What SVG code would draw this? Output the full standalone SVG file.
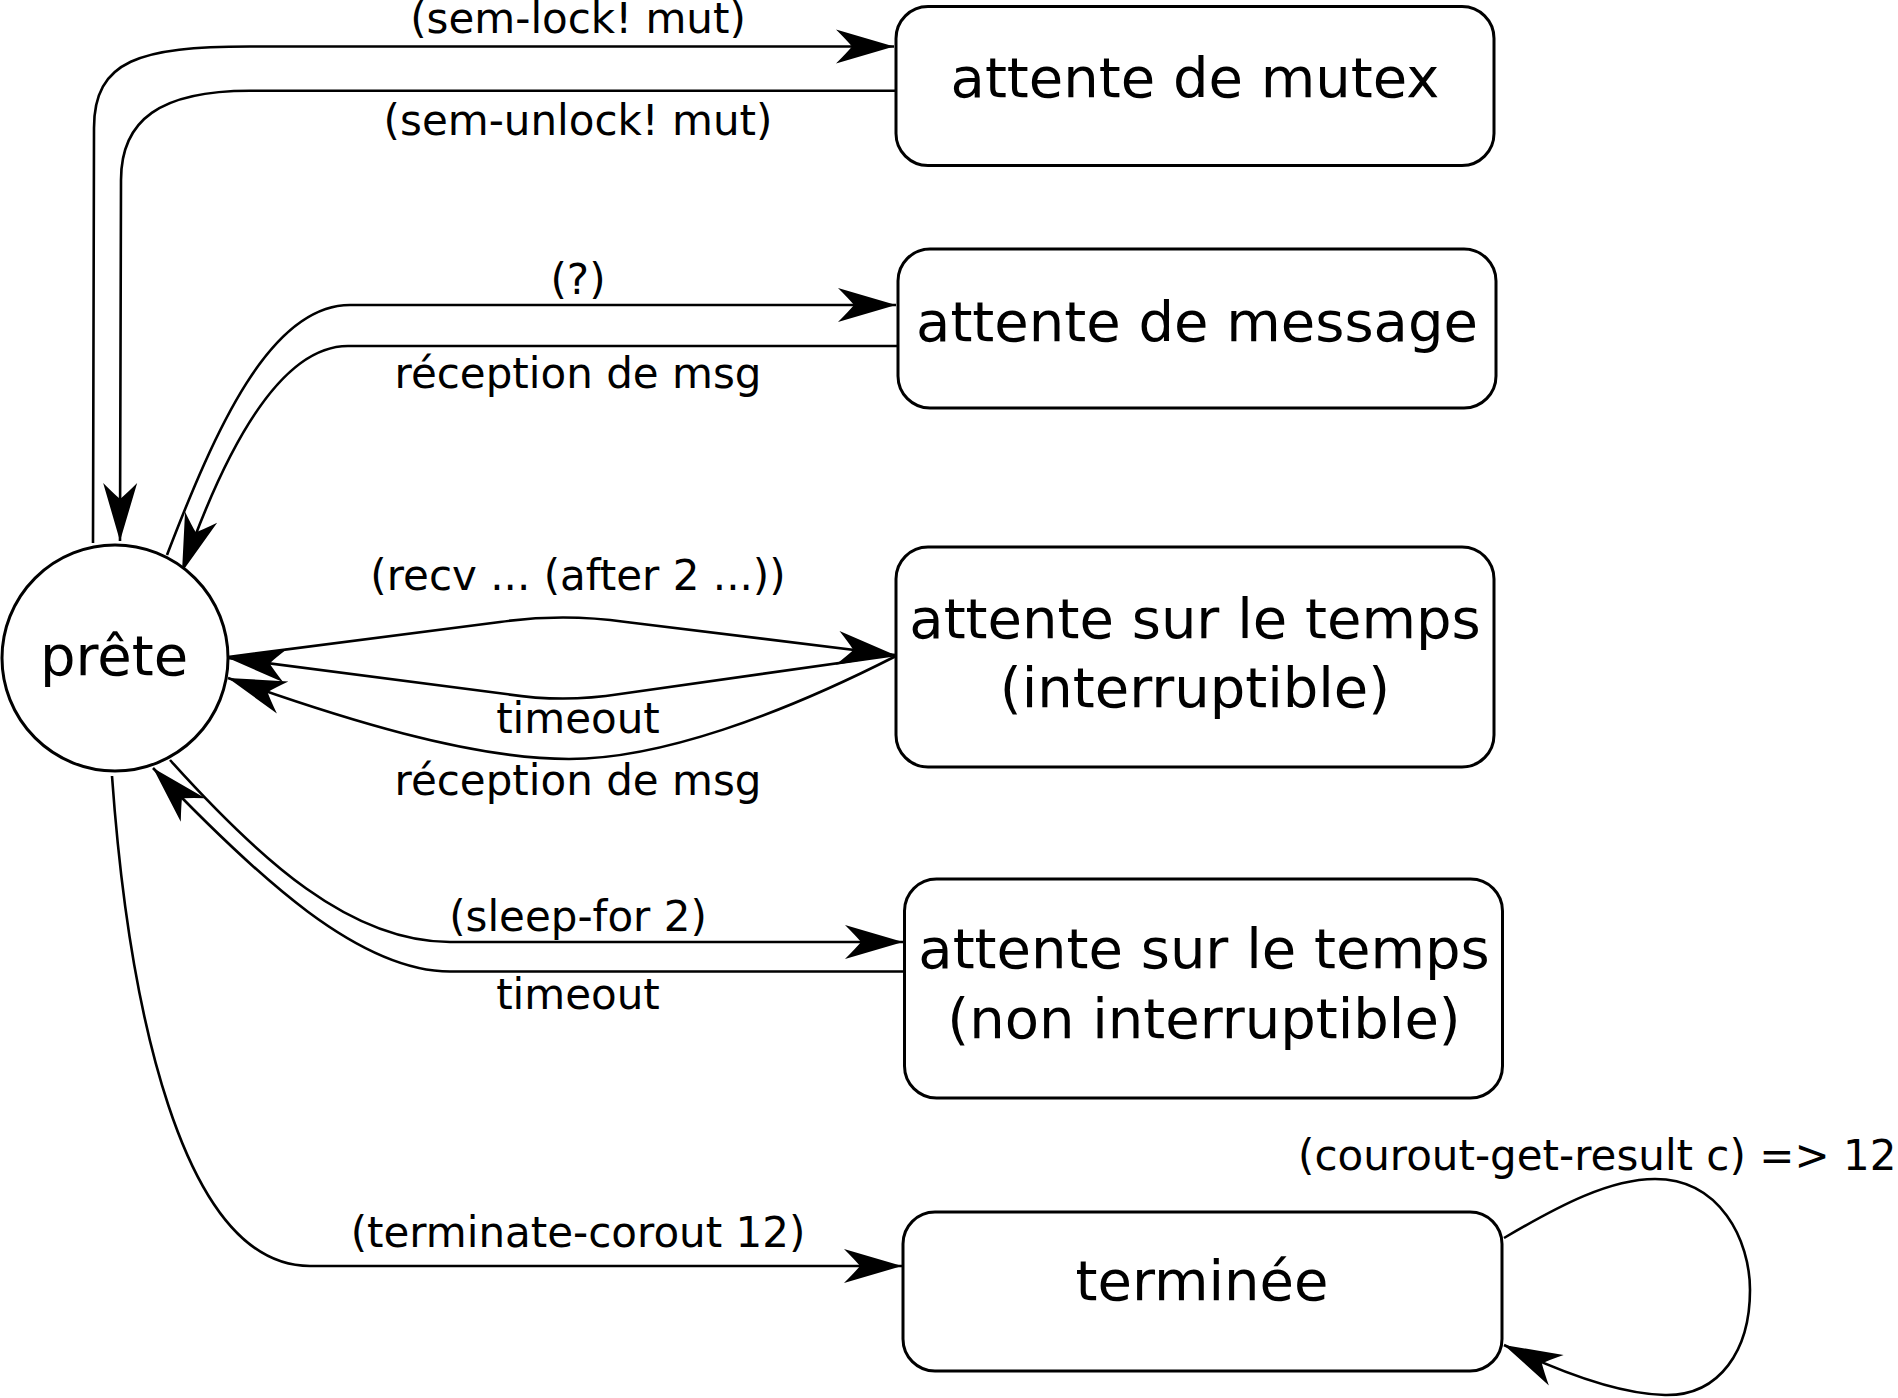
<svg xmlns="http://www.w3.org/2000/svg" width="1898" height="1398" viewBox="0 0 1898 1398">
<style>
.node{fill:#fff;stroke:#000;stroke-width:3}
.nt{font-family:"DejaVu Sans","Liberation Sans",sans-serif;font-size:56px;text-anchor:middle;fill:#000}
.lt{font-family:"DejaVu Sans","Liberation Sans",sans-serif;font-size:42px;text-anchor:middle;fill:#000}
.ed{fill:none;stroke:#000;stroke-width:2.6;marker-end:url(#ah)}
.ed0{fill:none;stroke:#000;stroke-width:2.6}
</style>
<defs>
<marker id="ah" markerUnits="userSpaceOnUse" orient="auto" viewBox="-62 -20 64 40" markerWidth="64" markerHeight="40" refX="0" refY="0" overflow="visible">
<path d="M0,0 L-58,-17 Q-47,-6 -42,0 Q-47,6 -58,17 Z" fill="#000"/>
</marker>
</defs>
<rect width="1898" height="1398" fill="#fff"/>
<g id="connectors">
<path class="ed" d="M93,543 L94,128 C94,60 140,46.5 250,46.5 L894,46.5"/>
<path class="ed" d="M895,90.7 L250,90.7 C160,90.7 121,120 121,180 L120,541"/>
<path class="ed" d="M167,555 C215,430 270,305 350,305 L896,305"/>
<path class="ed" d="M897,346 L348,346 C290,346 235,420 182,572"/>
<path class="ed" d="M228,657 L500,622 Q563,613 626,622 L895,655"/>
<path class="ed" d="M896,655 L620,694 Q563,703 506,694 L228,658"/>
<path class="ed" d="M896,656 C780,715 660,759 569,759 C470,759 340,718 228,678"/>
<path class="ed" d="M170,760 C260,860 350,942 450,942 L903,942"/>
<path class="ed" d="M905,971.5 L450,971.5 C360,971.5 260,880 153,768"/>
<path class="ed" d="M112,776 C128,1000 180,1266 310,1266 L902,1266"/>
<path class="ed" d="M1504,1238 C1560,1205 1610,1179 1655,1179 C1720,1179 1750,1240 1750,1290 C1750,1350 1720,1396 1665,1395 C1620,1394 1560,1372 1504,1345"/>
<text class="lt" x="578" y="33">(sem-lock! mut)</text>
<text class="lt" x="578" y="135">(sem-unlock! mut)</text>
<text class="lt" x="578" y="294">(?)</text>
<text class="lt" x="578" y="388">réception de msg</text>
<text class="lt" x="578" y="590">(recv ... (after 2 ...))</text>
<text class="lt" x="578" y="733">timeout</text>
<text class="lt" x="578" y="795">réception de msg</text>
<text class="lt" x="578" y="931">(sleep-for 2)</text>
<text class="lt" x="578" y="1009">timeout</text>
<text class="lt" x="578" y="1247">(terminate-corout 12)</text>
<text class="lt" x="1298" y="1170" style="text-anchor:start">(courout-get-result c) =&gt; 12</text>
</g>
<g id="prete">
<circle class="node" cx="115" cy="658" r="113"/>
<text class="nt" x="114" y="675">prête</text>
</g>
<g id="mutex">
<rect class="node" x="896" y="6.5" width="598" height="159" rx="32"/>
<text class="nt" x="1195" y="97">attente de mutex</text>
</g>
<g id="message">
<rect class="node" x="898" y="249" width="598" height="159" rx="32"/>
<text class="nt" x="1197" y="341">attente de message</text>
</g>
<g id="temps-interruptible">
<rect class="node" x="896" y="547" width="598" height="220" rx="32"/>
<text class="nt" x="1195" y="638">attente sur le temps</text>
<text class="nt" x="1195" y="707">(interruptible)</text>
</g>
<g id="temps-non-interruptible">
<rect class="node" x="904.5" y="879" width="598" height="219" rx="32"/>
<text class="nt" x="1204" y="968">attente sur le temps</text>
<text class="nt" x="1204" y="1038">(non interruptible)</text>
</g>
<g id="terminee">
<rect class="node" x="903" y="1212" width="599" height="159" rx="32"/>
<text class="nt" x="1202" y="1300">terminée</text>
</g>
</svg>
